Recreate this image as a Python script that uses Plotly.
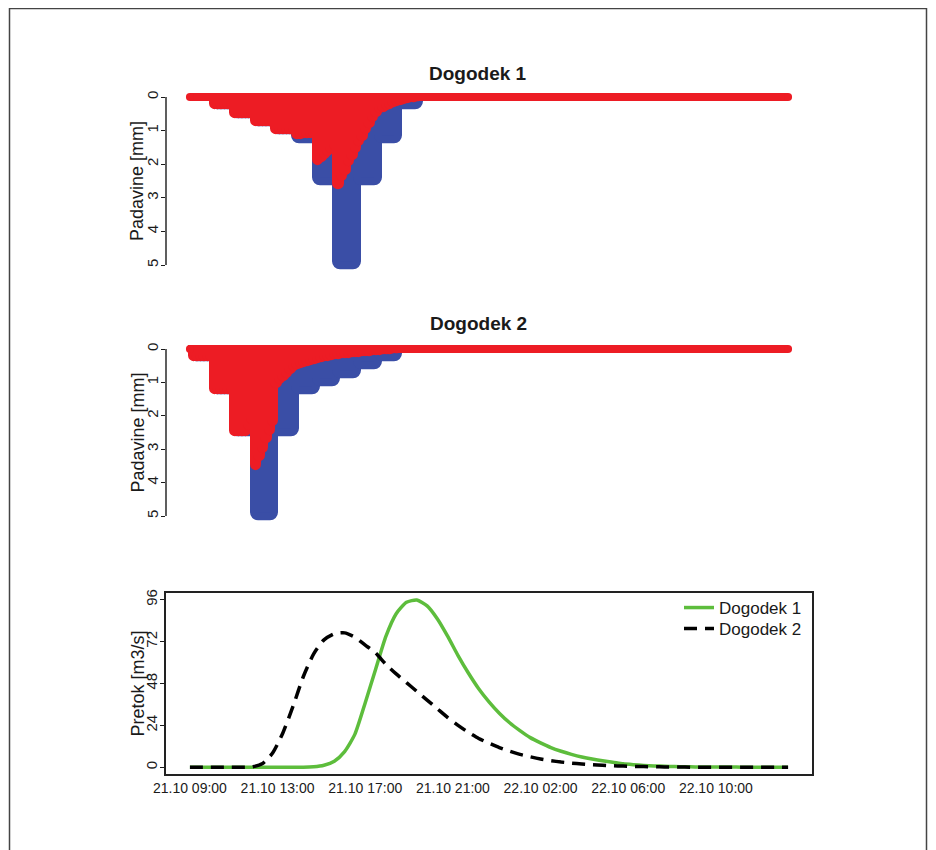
import plotly.graph_objects as go

# ---------------- data ----------------
# time in hours, counted from 21.10 00:00
series_start = 9.0
series_end = 38.0

# hourly total rainfall [mm] (blue), blocks of 1 h
rain1_start = 10.1
rain1_total = [0.25, 0.5, 0.75, 1.0, 1.25, 2.5, 5.0, 2.5, 1.25, 0.25]
rain2_start = 9.1
rain2_total = [0.25, 1.25, 2.5, 5.0, 2.5, 1.25, 1.0, 0.75, 0.5, 0.25]

# effective rainfall [mm] (red), 10-minute steps
rain1_eff = [0.25, 0.25, 0.25, 0.25, 0.25, 0.25,
             0.5, 0.5, 0.5, 0.5, 0.5, 0.5,
             0.75, 0.75, 0.75, 0.75, 0.75, 0.75,
             1.0, 1.0, 1.0, 1.0, 1.0, 1.0,
             1.15, 1.13, 1.12, 1.11, 1.1, 1.1,
             1.9, 1.82, 1.74, 1.65, 1.56, 1.48,
             2.62, 2.4, 2.2, 1.95, 1.75, 1.55,
             1.35, 1.2, 1.0, 0.8, 0.62, 0.48,
             0.38, 0.33, 0.28, 0.24, 0.2, 0.17,
             0.12, 0.09, 0.07, 0.05, 0.03, 0.01]
rain2_eff = [0.25, 0.25, 0.25, 0.25, 0.25, 0.25,
             1.25, 1.25, 1.25, 1.25, 1.25, 1.25,
             2.5, 2.5, 2.5, 2.5, 2.3, 2.15,
             3.5, 3.25, 3.0, 2.7, 2.45, 2.2,
             1.05, 0.95, 0.85, 0.75, 0.65, 0.55,
             0.5, 0.46, 0.42, 0.39, 0.36, 0.33,
             0.3, 0.28, 0.26, 0.24, 0.22, 0.2,
             0.18, 0.17, 0.16, 0.15, 0.14, 0.13,
             0.12, 0.11, 0.1, 0.09, 0.08, 0.07,
             0.06, 0.05, 0.04, 0.03, 0.02, 0.01]

# discharge [m3/s], half-hour steps from 21.10 09:00
flow_step = 0.5
flow1 = [0, 0, 0, 0, 0, 0, 0, 0, 0, 0, 0, 0,
         0.3, 1.2, 3.5, 9, 19, 37, 56, 75, 88, 94.5, 95.8, 92.5,
         85, 75, 64, 54, 45, 37.5, 31, 25.5, 21, 17, 14, 11.3,
         9.2, 7.4, 5.9, 4.7, 3.7, 2.9, 2.0, 1.5, 1.1, 0.8, 0.6, 0.4,
         0.3, 0.2, 0.15, 0.1, 0.1, 0.1, 0, 0, 0, 0, 0]
flow2 = [0, 0, 0, 0, 0, 0,
         0.2, 2, 8, 19.5, 35, 52, 65, 73, 76.5, 77, 74.5, 70,
         65.5, 59, 53.5, 48.5, 43.5, 38.5, 33.5, 28.5, 24, 20, 16.5, 13.8,
         11.3, 9.2, 7.4, 6, 4.8, 3.8, 3.0, 2.4, 1.9, 1.5, 1.2, 0.9,
         0.7, 0.5, 0.4, 0.3, 0.2, 0.15, 0.1, 0, 0, 0, 0, 0, 0, 0, 0, 0, 0]

tick_hours = [9, 13.25, 17.5, 21.75, 26, 30.25, 34.5]
tick_labels = ["21.10 09:00", "21.10 13:00", "21.10 17:00", "21.10 21:00",
               "22.10 02:00", "22.10 06:00", "22.10 10:00"]
flow_ticks = [0, 24, 48, 72, 96]
rain_ticks = [0, 1, 2, 3, 4, 5]
titles = ["Dogodek 1", "Dogodek 2"]
legend_names = ["Dogodek 1", "Dogodek 2"]

# ---------------- style ----------------
RED = "#ed1c24"
BLUE = "#3a4ea6"
GREEN = "#5dbd3c"
TXT = "#1a1a1a"
FONT = "Liberation Sans"
DOT = 8  # diameter of the plotting symbols that build the rain bars

# page body has an 8px margin: lay the figure out in page pixels
OFF = 8
W, H = 936 - OFF, 850 - OFF

span = series_end - series_start
xr = [series_start - 0.04 * span, series_end + 0.04 * span]

def px_x(p):
    return (p - OFF) / W

def px_y(p):
    return 1 - (p - OFF) / H

fig = go.Figure()

def add_rain(start, total, eff, xa, ya):
    fig.add_trace(go.Bar(
        x=[start + i + 0.5 for i in range(len(total))], y=total, width=1.0,
        marker=dict(color=BLUE, line=dict(width=DOT, color=BLUE), cornerradius=4),
        xaxis=xa, yaxis=ya, showlegend=False, hoverinfo="skip"))
    fig.add_trace(go.Bar(
        x=[start + (j + 0.5) / 6 for j in range(len(eff))], y=eff, width=1 / 6,
        marker=dict(color=RED, line=dict(width=DOT, color=RED), cornerradius=4),
        xaxis=xa, yaxis=ya, showlegend=False, hoverinfo="skip"))
    fig.add_trace(go.Scatter(
        x=[series_start, series_end], y=[0, 0], mode="lines+markers",
        line=dict(color=RED, width=DOT), marker=dict(color=RED, size=DOT),
        xaxis=xa, yaxis=ya, showlegend=False, hoverinfo="skip"))

add_rain(rain1_start, rain1_total, rain1_eff, "x", "y")
add_rain(rain2_start, rain2_total, rain2_eff, "x2", "y2")

flow_hours = [series_start + flow_step * i for i in range(len(flow1))]
fig.add_trace(go.Scatter(x=flow_hours, y=flow1, mode="lines", name=legend_names[0],
                         line=dict(color=GREEN, width=3.5, shape="spline", smoothing=0.6),
                         xaxis="x3", yaxis="y3", legend="legend"))
fig.add_trace(go.Scatter(x=flow_hours, y=flow2, mode="lines", name=legend_names[1],
                         line=dict(color="black", width=3.5, dash="13px,8px",
                                   shape="spline", smoothing=0.6),
                         xaxis="x3", yaxis="y3", legend="legend2"))

xdom = [px_x(166), px_x(812)]
p1_0, p1_5 = 97, 265
p2_0, p2_5 = 349, 516

def rain_dom(p0, p5):
    s = (p5 - p0) / 5.0
    return [px_y(p5 + 0.2 * s), px_y(p0 - 0.2 * s)]

hidden_x = dict(range=xr, domain=xdom, visible=False, showgrid=False, zeroline=False)
rain_y = dict(range=[5.2, -0.2], tickvals=rain_ticks, tickangle=-90, ticks="outside",
              ticklen=4, tickcolor=TXT, tickwidth=1, showline=False, showgrid=False,
              zeroline=False, ticklabelstandoff=-3,
              tickfont=dict(family=FONT, size=15, color=TXT))

leg = dict(xanchor="right", yanchor="middle", bgcolor="rgba(0,0,0,0)",
           font=dict(family=FONT, size=17, color=TXT), itemwidth=30)

fig.update_layout(
    width=W, height=H, margin=dict(l=0, r=0, t=0, b=0, autoexpand=False),
    paper_bgcolor="white", plot_bgcolor="white",
    barmode="overlay", bargap=0,
    font=dict(family=FONT, color=TXT),
    xaxis=dict(hidden_x, anchor="y"),
    xaxis2=dict(hidden_x, anchor="y2"),
    xaxis3=dict(range=xr, domain=xdom, anchor="y3", tickvals=tick_hours,
                ticktext=tick_labels, ticks="", showline=True, mirror=True,
                linecolor="#222", linewidth=1.8, showgrid=False, zeroline=False,
                tickfont=dict(family=FONT, size=14, color=TXT)),
    yaxis=dict(rain_y, domain=rain_dom(p1_0, p1_5), anchor="x"),
    yaxis2=dict(rain_y, domain=rain_dom(p2_0, p2_5), anchor="x2"),
    yaxis3=dict(range=[-3.84, 99.84], domain=[px_y(774), px_y(593)], anchor="x3",
                tickvals=flow_ticks, tickangle=-90, ticks="outside", ticklen=4,
                tickcolor=TXT, showline=True, mirror=True, linecolor="#222",
                linewidth=1.8, showgrid=False, zeroline=False, ticklabelstandoff=-3,
                tickfont=dict(family=FONT, size=15, color=TXT)),
    legend=dict(leg, x=px_x(807), y=px_y(608)),
    legend2=dict(leg, x=px_x(807), y=px_y(629)),
)

for ya in ["y", "y2"]:
    fig.add_shape(type="line", xref="paper", yref=ya, x0=xdom[0], x1=xdom[0],
                  y0=0, y1=5, line=dict(color=TXT, width=1.4))

for t, yp in zip(titles, [73, 324]):
    fig.add_annotation(text="<b>%s</b>" % t, xref="paper", yref="paper",
                       x=px_x(478), y=px_y(yp), xanchor="center", yanchor="middle",
                       showarrow=False, font=dict(family=FONT, size=19, color=TXT))
for ya in ["y", "y2"]:
    fig.add_annotation(text="Padavine [mm]", xref="paper", yref=ya, x=px_x(137),
                       y=2.5, xanchor="center", yanchor="middle", showarrow=False,
                       textangle=-90, font=dict(family=FONT, size=18, color=TXT))
fig.add_annotation(text="Pretok [m3/s]", xref="paper", yref="y3", x=px_x(137),
                   y=48, xanchor="center", yanchor="middle", showarrow=False,
                   textangle=-90, font=dict(family=FONT, size=18, color=TXT))

fig.add_shape(type="rect", xref="paper", yref="paper", x0=px_x(9.5), x1=px_x(926.5),
              y0=-0.05, y1=px_y(8.5), line=dict(color="#444", width=1.5))

fig.write_html("out.html")
